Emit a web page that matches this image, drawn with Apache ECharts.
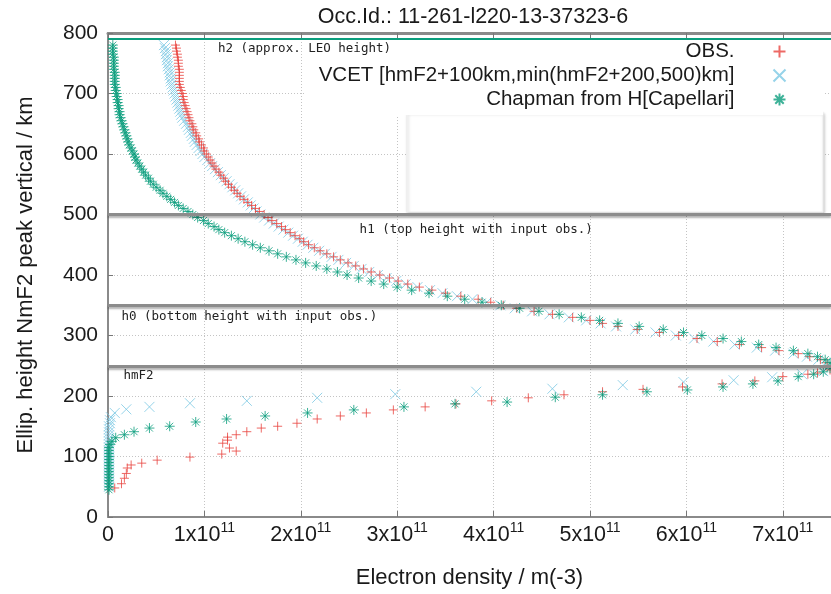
<!DOCTYPE html>
<html>
<head>
<meta charset="utf-8">
<title>Occ.Id.: 11-261-l220-13-37323-6</title>
<script src="https://cdn.jsdelivr.net/npm/echarts@6/dist/echarts.min.js"></script>
<style>
    html, body { margin: 0; padding: 0; background: #fff; }
    #chart { width: 831px; height: 594px; }
</style>
</head>
<body>
<div id="chart"></div>
<script>
// electron density values are in units of 1e11 m^-3, heights in km

// topside samples (hmF2 -> top), shared heights for the three profiles
var topHeights = [
    780, 775, 770, 765, 760, 755, 750, 745, 740, 735,
    730, 725, 720, 715, 710, 705, 700, 695, 690, 685,
    680, 675, 670, 665, 660, 655, 650, 645, 640, 635,
    630, 625, 620, 615, 610, 605, 600, 595, 590, 585,
    580, 575, 570, 565, 560, 555, 550, 545, 540, 535,
    530, 525, 520, 515, 510, 505, 500, 495, 490, 485,
    480, 475, 470, 465, 460, 455, 450, 445, 440, 435,
    430, 425, 420, 415, 410, 405, 400, 395, 390, 385,
    380, 375, 370, 365, 360, 355, 350, 345, 340, 335,
    330, 325, 320, 315, 310, 305, 300, 295, 290, 285,
    280, 275, 270, 265, 260, 255
];
var obsTop = [
    0.70, 0.71, 0.71, 0.72, 0.72, 0.73, 0.73, 0.73, 0.74, 0.74,
    0.74, 0.74, 0.74, 0.74, 0.75, 0.76, 0.77, 0.78, 0.78, 0.79,
    0.80, 0.81, 0.82, 0.83, 0.84, 0.85, 0.87, 0.88, 0.89, 0.91,
    0.92, 0.94, 0.95, 0.97, 0.99, 1.00, 1.02, 1.04, 1.06, 1.08,
    1.10, 1.12, 1.15, 1.17, 1.20, 1.22, 1.25, 1.28, 1.31, 1.34,
    1.37, 1.41, 1.45, 1.49, 1.53, 1.57, 1.62, 1.66, 1.70, 1.75,
    1.80, 1.84, 1.89, 1.94, 1.99, 2.03, 2.08, 2.14, 2.20, 2.27,
    2.34, 2.41, 2.49, 2.57, 2.65, 2.73, 2.82, 2.92, 3.01, 3.11,
    3.23, 3.36, 3.50, 3.66, 3.84, 3.97, 4.10, 4.24, 4.42, 4.61,
    4.82, 5.00, 5.13, 5.29, 5.49, 5.72, 5.92, 6.11, 6.32, 6.55,
    6.78, 6.96, 7.16, 7.28, 7.39, 7.46
];
var vcetTop = [
    0.58, 0.59, 0.60, 0.60, 0.61, 0.61, 0.62, 0.62, 0.63, 0.64,
    0.64, 0.65, 0.65, 0.66, 0.67, 0.68, 0.69, 0.70, 0.71, 0.72,
    0.73, 0.74, 0.75, 0.76, 0.77, 0.79, 0.81, 0.83, 0.84, 0.86,
    0.87, 0.89, 0.90, 0.92, 0.94, 0.96, 0.98, 1.00, 1.03, 1.06,
    1.08, 1.11, 1.14, 1.17, 1.20, 1.23, 1.26, 1.29, 1.32, 1.35,
    1.38, 1.41, 1.45, 1.48, 1.51, 1.54, 1.58, 1.62, 1.67, 1.72,
    1.77, 1.82, 1.87, 1.92, 1.97, 2.02, 2.07, 2.13, 2.19, 2.25,
    2.32, 2.39, 2.47, 2.55, 2.63, 2.71, 2.80, 2.89, 2.99, 3.09,
    3.21, 3.34, 3.47, 3.62, 3.78, 3.93, 4.07, 4.22, 4.40, 4.58,
    4.78, 4.96, 5.11, 5.27, 5.47, 5.68, 5.89, 6.08, 6.28, 6.50,
    6.73, 6.92, 7.11, 7.25, 7.37, 7.45
];
var chapTop = [
    0.05, 0.05, 0.05, 0.05, 0.06, 0.06, 0.06, 0.06, 0.06, 0.07,
    0.07, 0.07, 0.07, 0.07, 0.08, 0.08, 0.09, 0.09, 0.10, 0.10,
    0.11, 0.11, 0.12, 0.12, 0.13, 0.14, 0.15, 0.16, 0.17, 0.18,
    0.19, 0.20, 0.21, 0.22, 0.24, 0.25, 0.27, 0.28, 0.29, 0.31,
    0.33, 0.35, 0.37, 0.39, 0.42, 0.44, 0.47, 0.50, 0.54, 0.57,
    0.61, 0.65, 0.69, 0.73, 0.78, 0.83, 0.88, 0.93, 0.99, 1.04,
    1.10, 1.15, 1.21, 1.28, 1.35, 1.42, 1.50, 1.58, 1.67, 1.76,
    1.85, 1.95, 2.05, 2.16, 2.27, 2.38, 2.48, 2.60, 2.73, 2.86,
    3.00, 3.15, 3.33, 3.52, 3.70, 3.88, 4.08, 4.27, 4.47, 4.68,
    4.91, 5.10, 5.29, 5.51, 5.76, 5.97, 6.16, 6.38, 6.57, 6.75,
    6.93, 7.11, 7.26, 7.36, 7.44, 7.49
];

// bottomside samples [Ne, height]
var obsBottom = [
    [7.49, 243], [7.36, 238], [7.26, 236], [7.00, 232], [6.71, 225], [6.37, 220],
    [5.96, 215], [5.55, 211], [5.13, 207], [4.73, 202], [4.36, 197], [3.98, 192],
    [3.61, 187], [3.29, 182], [2.96, 177], [2.68, 172], [2.41, 167], [2.17, 162],
    [1.96, 155], [1.76, 150], [1.59, 147], [1.44, 141], [1.33, 136], [1.24, 132],
    [1.24, 127], [1.19, 122], [1.26, 114], [1.33, 109], [1.18, 104], [0.85, 99],
    [0.51, 94], [0.35, 89], [0.24, 86], [0.20, 81], [0.19, 72], [0.17, 64],
    [0.14, 55], [0.07, 48]
];
var vcetBottom = [
    [7.42, 241], [7.20, 236], [6.89, 231], [6.49, 226], [5.97, 223], [5.34, 218],
    [4.61, 212], [3.82, 207], [2.98, 203], [2.17, 197], [1.44, 192], [0.85, 188],
    [0.43, 182], [0.19, 178], [0.07, 172], [0.03, 165], [0.02, 160], [0.02, 155],
    [0.01, 150], [0.01, 145], [0.01, 140], [0.01, 135], [0.01, 130], [0.01, 125],
    [0.01, 120], [0.01, 115], [0.01, 110], [0.01, 105], [0.01, 100], [0.01, 95],
    [0.01, 90], [0.01, 85], [0.01, 80], [0.01, 75], [0.01, 70], [0.01, 65],
    [0.01, 60], [0.01, 55], [0.01, 50]
];
var chapBottom = [
    [7.49, 246], [7.42, 240], [7.32, 236], [7.16, 232], [6.95, 225], [6.69, 220],
    [6.38, 215], [6.01, 210], [5.59, 207], [5.13, 202], [4.64, 198], [4.14, 190],
    [3.60, 187], [3.07, 182], [2.55, 177], [2.07, 172], [1.63, 167], [1.23, 162],
    [0.91, 157], [0.64, 150], [0.43, 147], [0.27, 141], [0.17, 136], [0.08, 131],
    [0.04, 125], [0.02, 120], [0.01, 115], [0.01, 110], [0.01, 105], [0.01, 100],
    [0.01, 95], [0.01, 90], [0.01, 85], [0.01, 80], [0.01, 75], [0.01, 70],
    [0.01, 65], [0.01, 60], [0.01, 55], [0.01, 50], [0.01, 45]
];

// reference heights
var refNames = ['h2 (approx. LEO height)', 'h1 (top height with input obs.)', 'h0 (bottom height with input obs.)', 'hmF2'];
var refHeights = [790, 500, 350, 250];
var refLabelX = [1.14, 2.61, 0.14, 0.16];

var seriesNames = ['OBS.', 'VCET [hmF2+100km,min(hmF2+200,500)km]', 'Chapman from H[Capellari]'];

var FONT = "'Liberation Sans', Arial, sans-serif";
var MONO = "'DejaVu Sans Mono', monospace";
var TEXT = '#1a1a1a';
var RED = '#e8433e';
var CYAN = '#7cc8e4';
var GREEN = '#0b9e7d';

function pairs(xs, hs) {
    return xs.map(function (x, i) { return [x, hs[i]]; });
}

var chart = echarts.init(document.getElementById('chart'));

var option = {
    animation: false,
    title: {
        text: 'Occ.Id.: 11-261-l220-13-37323-6',
        left: 468,
        textAlign: 'center',
        top: 1,
        textStyle: { fontFamily: FONT, fontSize: 21.5, fontWeight: 'normal', color: TEXT }
    },
    grid: { left: 108, right: 0, top: 33, bottom: 77 },
    legend: {
        data: seriesNames,
        orient: 'vertical',
        align: 'right',
        right: 8,
        top: 38,
        itemWidth: 12,
        itemHeight: 12,
        itemGap: 1,
        padding: [2, 35, 4, 14],
        backgroundColor: '#fff',
        textStyle: { fontFamily: FONT, fontSize: 20.5, color: TEXT, lineHeight: 23, padding: [0, 34, 0, 0] }
    },
    xAxis: [{
        type: 'value',
        min: 0,
        max: 7.5,
        interval: 1,
        position: 'bottom',
        name: 'Electron density / m(-3)',
        nameLocation: 'middle',
        nameGap: 50,
        nameTextStyle: { fontFamily: FONT, fontSize: 22, color: TEXT },
        axisLine: { show: true, onZero: false, lineStyle: { color: '#8a8a8a', width: 2 } },
        axisTick: { show: true, inside: true, length: 6, lineStyle: { color: '#777' } },
        splitLine: { show: true, lineStyle: { color: '#c4c4c4', width: 1, type: [1, 2] } },
        axisLabel: {
            showMaxLabel: false,
            margin: 7,
            formatter: function (v) {
                if (v === 0) return '{n|0}';
                return '{n|' + v + 'x10}{s|11}';
            },
            rich: {
                n: { fontFamily: FONT, fontSize: 21.5, color: TEXT, lineHeight: 22, verticalAlign: 'middle' },
                s: { fontFamily: FONT, fontSize: 14, color: TEXT, lineHeight: 14, padding: [0, 0, 14, 0], verticalAlign: 'middle' }
            }
        }
    }, {
        type: 'value',
        min: 0,
        max: 7.5,
        interval: 1,
        position: 'top',
        axisLine: { show: true, onZero: false, lineStyle: { color: '#8a8a8a', width: 3 } },
        axisTick: { show: true, inside: true, length: 6, lineStyle: { color: '#777' } },
        axisLabel: { show: false },
        splitLine: { show: false }
    }],
    yAxis: {
        type: 'value',
        min: 0,
        max: 800,
        interval: 100,
        name: 'Ellip. height NmF2 peak vertical / km',
        nameLocation: 'middle',
        nameGap: 71,
        nameTextStyle: { fontFamily: FONT, fontSize: 22, color: TEXT },
        axisLine: { show: true, onZero: false, lineStyle: { color: '#8a8a8a', width: 2 } },
        axisTick: { show: true, inside: true, length: 5, lineStyle: { color: '#777' } },
        splitLine: { show: true, lineStyle: { color: '#c4c4c4', width: 1, type: [1, 2] } },
        axisLabel: { fontFamily: FONT, fontSize: 21, color: TEXT, margin: 10 }
    },
    series: [{
        name: seriesNames[1],
        type: 'scatter',
        symbol: 'path://M0,0L10,10M0,10L10,0',
        symbolSize: 10,
        itemStyle: { color: 'none', borderColor: CYAN, borderWidth: 1 },
        data: pairs(vcetTop, topHeights).concat(vcetBottom)
    }, {
        name: seriesNames[0],
        type: 'scatter',
        symbol: 'path://M0,5L10,5M5,0L5,10',
        symbolSize: 9,
        itemStyle: { color: 'none', borderColor: RED, borderWidth: 1 },
        data: pairs(obsTop, topHeights).concat(obsBottom),
        markLine: {
            silent: true,
            symbol: ['none', 'none'],
            label: { show: false },
            lineStyle: {
                color: '#8c8c8c', width: 3, type: 'solid',
                shadowColor: 'rgba(0,0,0,0.3)', shadowBlur: 2, shadowOffsetY: 2
            },
            data: refHeights.map(function (h, i) {
                var item = { yAxis: h };
                if (i === 0) {
                    item.lineStyle = { color: GREEN, width: 2, shadowBlur: 0, shadowOffsetY: 0, shadowColor: 'transparent' };
                }
                return item;
            })
        }
    }, {
        name: seriesNames[2],
        type: 'scatter',
        symbol: 'path://M0,5L10,5M5,0L5,10M1.5,1.5L8.5,8.5M1.5,8.5L8.5,1.5',
        symbolSize: 10,
        itemStyle: { color: 'none', borderColor: GREEN, borderWidth: 1 },
        data: pairs(chapTop, topHeights).concat(chapBottom)
    }]
};

chart.setOption(option);

// empty box under the key + labels of the reference heights
var labelOffsets = [10, 15, 11, 10];
var graphics = [{
    type: 'rect',
    z: 3,
    shape: { x: 407, y: 112, width: 416, height: 100 },
    style: {
        fill: '#fff', stroke: '#efefef', lineWidth: 1,
        shadowColor: 'rgba(0,0,0,0.22)', shadowBlur: 3, shadowOffsetX: 1, shadowOffsetY: 2
    }
}];
refNames.forEach(function (name, i) {
    var p = chart.convertToPixel({ xAxisIndex: 0, yAxisIndex: 0 }, [refLabelX[i], refHeights[i]]);
    graphics.push({
        type: 'text',
        z: 5,
        x: p[0],
        y: p[1] + labelOffsets[i],
        style: { text: name, font: '12.5px ' + MONO, fill: '#222', verticalAlign: 'middle' }
    });
});
chart.setOption({ graphic: graphics });

window.addEventListener('resize', function () {
    chart.resize();
});
</script>
</body>
</html>
